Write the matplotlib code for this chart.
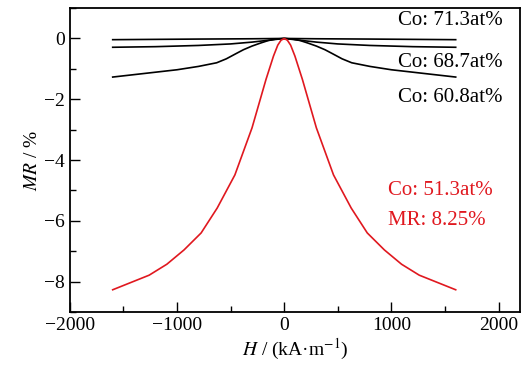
import matplotlib
matplotlib.use('Agg')
from matplotlib import pyplot as plt
from matplotlib.ticker import MultipleLocator

# H field (kA/m), half curves mirrored around 0
h_red = [0, 30, 60, 100, 170, 300, 460, 625, 775, 935, 1095, 1260, 1600]
mr_red = [0, -0.06, -0.22, -0.58, -1.35, -2.94, -4.49, -5.58, -6.4, -6.96, -7.43, -7.79, -8.27]

h_608 = [0, 80, 150, 220, 300, 380, 450, 540, 630, 800, 1000, 1200, 1400, 1600]
mr_608 = [0, -0.02, -0.07, -0.15, -0.25, -0.37, -0.5, -0.67, -0.8, -0.92, -1.03, -1.11, -1.19, -1.27]

h_687 = [0, 150, 300, 500, 800, 1200, 1600]
mr_687 = [0, -0.06, -0.12, -0.18, -0.23, -0.27, -0.29]

h_713 = [0, 300, 800, 1200, 1600]
mr_713 = [0, -0.01, -0.02, -0.03, -0.04]

labels_black = ['Co: 71.3at%', 'Co: 68.7at%', 'Co: 60.8at%']
label_red = ['Co: 51.3at%', 'MR: 8.25%']

red = '#e0181f'

def mirror(h, mr):
    xs = [-v for v in h[::-1]] + h[1:]
    ys = mr[::-1] + mr[1:]
    return xs, ys

plt.rcParams['font.family'] = ['Liberation Serif', 'DejaVu Serif']
plt.rcParams['mathtext.fontset'] = 'stix'
plt.rcParams['font.size'] = 14

fig = plt.figure(figsize=(5.29, 3.67), dpi=100)
ax = fig.add_axes([0.132, 0.150, 0.851, 0.828])

for h, mr in [(h_713, mr_713), (h_687, mr_687), (h_608, mr_608)]:
    x, y = mirror(h, mr)
    ax.plot(x, y, color='black', lw=1.2)
x, y = mirror(h_red, mr_red)
ax.plot(x, y, color=red, lw=1.2)

ax.set_xlim(-2000, 2200)
ax.set_ylim(-9, 1)
ax.xaxis.set_major_locator(MultipleLocator(1000))
ax.xaxis.set_minor_locator(MultipleLocator(500))
ax.yaxis.set_major_locator(MultipleLocator(2))
ax.yaxis.set_minor_locator(MultipleLocator(1))
ax.tick_params(which='both', direction='in', top=False, right=False, labelsize=14, width=1)
ax.tick_params(which='major', length=7)
ax.tick_params(which='minor', length=4)
for s in ax.spines.values():
    s.set_linewidth(1.3)

ax.set_xlabel('$\\mathit{H}$ / (kA·m$^{-1}$)', fontsize=14, labelpad=2)
ax.set_ylabel('$\\mathit{MR}$ / %', fontsize=14, labelpad=2)

ax.text(2040, 0.6, labels_black[0], ha='right', va='center', fontsize=15)
ax.text(2040, -0.78, labels_black[1], ha='right', va='center', fontsize=15)
ax.text(2040, -1.95, labels_black[2], ha='right', va='center', fontsize=15)
ax.text(970, -5.0, label_red[0], ha='left', va='center', fontsize=15, color=red)
ax.text(970, -5.98, label_red[1], ha='left', va='center', fontsize=15, color=red)

fig.savefig('out.png', dpi=100)
